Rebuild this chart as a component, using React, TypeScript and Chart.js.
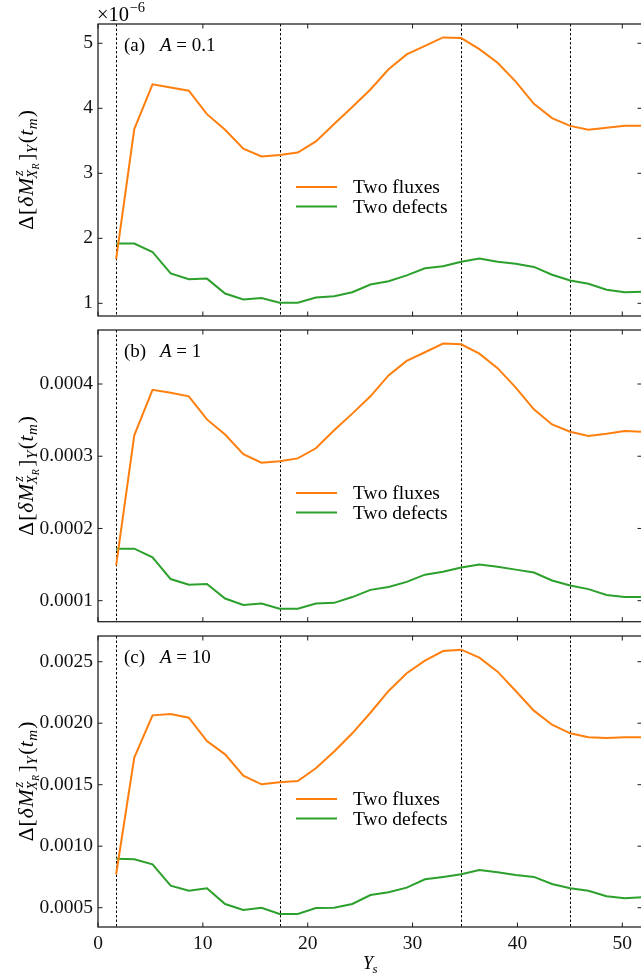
import React, { useEffect, useRef } from "react";
import { Chart, registerables } from "chart.js";

Chart.register(...registerables);

// ---------------- data ----------------
const Y_S = [1.73, 3.46, 5.2, 6.93, 8.66, 10.39, 12.12, 13.86, 15.59, 17.32, 19.05, 20.78, 22.52, 24.25, 25.98, 27.71, 29.44, 31.18, 32.91, 34.64, 36.37, 38.11, 39.84, 41.57, 43.3, 45.03, 46.77, 48.5, 50.23, 51.96];

// (a) A = 0.1  (values in units of 1e-6)
const FLUXES_A01 = [1.68, 3.68, 4.37, 4.32, 4.27, 3.91, 3.67, 3.38, 3.26, 3.28, 3.32, 3.49, 3.76, 4.02, 4.29, 4.6, 4.83, 4.96, 5.09, 5.08, 4.91, 4.7, 4.41, 4.07, 3.85, 3.73, 3.67, 3.7, 3.73, 3.73];
const DEFECTS_A01 = [1.92, 1.92, 1.79, 1.46, 1.37, 1.38, 1.15, 1.06, 1.08, 1.01, 1.01, 1.09, 1.11, 1.17, 1.29, 1.34, 1.43, 1.54, 1.57, 1.64, 1.69, 1.64, 1.61, 1.56, 1.44, 1.35, 1.3, 1.21, 1.17, 1.18];

// (b) A = 1
const FLUXES_A1 = [0.000149, 0.000329, 0.000392, 0.000388, 0.000383, 0.000351, 0.00033, 0.000303, 0.000291, 0.000293, 0.000297, 0.000311, 0.000336, 0.000359, 0.000383, 0.000412, 0.000432, 0.000444, 0.000456, 0.000455, 0.000442, 0.000422, 0.000395, 0.000365, 0.000344, 0.000334, 0.000328, 0.000331, 0.000335, 0.000334];
const DEFECTS_A1 = [0.000172, 0.000172, 0.00016, 0.00013, 0.000122, 0.000123, 0.000103, 0.000094, 0.000096, 0.000089, 0.000089, 0.000096, 0.000097, 0.000105, 0.000115, 0.000119, 0.000126, 0.000136, 0.00014, 0.000146, 0.00015, 0.000147, 0.000143, 0.000139, 0.000128, 0.000121, 0.000116, 0.000108, 0.000105, 0.000105];

// (c) A = 10
const FLUXES_A10 = [0.000772, 0.00172, 0.002064, 0.002075, 0.002045, 0.001855, 0.001747, 0.001573, 0.001503, 0.001519, 0.00153, 0.001633, 0.00177, 0.001918, 0.002085, 0.002262, 0.002406, 0.002508, 0.002587, 0.002598, 0.002533, 0.002419, 0.002262, 0.002102, 0.001988, 0.001918, 0.001885, 0.00188, 0.001885, 0.001885];
const DEFECTS_A10 = [0.000898, 0.000893, 0.000853, 0.000679, 0.000638, 0.000658, 0.00053, 0.000481, 0.0005, 0.000449, 0.000449, 0.000497, 0.0005, 0.00053, 0.000603, 0.000625, 0.000663, 0.000731, 0.00075, 0.000772, 0.000807, 0.000788, 0.000766, 0.00075, 0.000693, 0.000658, 0.000638, 0.000593, 0.000576, 0.000585];

const X_TICKS = [0, 10, 20, 30, 40, 50];
const Y_TICKS_A01 = [1, 2, 3, 4, 5];
const Y_TICKS_A1 = [0.0001, 0.0002, 0.0003, 0.0004];
const Y_TICKS_A10 = [0.0005, 0.001, 0.0015, 0.002, 0.0025];
const V_LINES = [1.732, 17.32, 34.64, 45.03];
const SERIES_NAMES = ["Two fluxes", "Two defects"];
const PANEL_TAGS = ["(a)", "(b)", "(c)"];
const A_VALUES = ["0.1", "1", "10"];

// ---------------- style / layout ----------------
const SERIF = "'Liberation Serif', 'Times New Roman', serif";
const COLORS = ["#ff7f0e", "#2ca02c"];
const CANVAS_W = 650;
const X_MAX = 51.88;

type PanelCfg = {
  idx: number;
  flux: number[];
  def: number[];
  yTicks: number[];
  yMin: number;
  yMax: number;
  fmt: (v: number) => string;
  top: number;
  h: number;
  padTop: number;
  xH: number;
  showX: boolean;
  showMult: boolean;
};

const PANELS: PanelCfg[] = [
  { idx: 0, flux: FLUXES_A01, def: DEFECTS_A01, yTicks: Y_TICKS_A01, yMin: 0.805, yMax: 5.297, fmt: (v) => String(Math.round(v)), top: 0, h: 320, padTop: 24, xH: 4, showX: false, showMult: true },
  { idx: 1, flux: FLUXES_A1, def: DEFECTS_A1, yTicks: Y_TICKS_A1, yMin: 0.0000709, yMax: 0.0004748, fmt: (v) => v.toFixed(4), top: 320, h: 310, padTop: 10, xH: 8.3, showX: false, showMult: false },
  { idx: 2, flux: FLUXES_A10, def: DEFECTS_A10, yTicks: Y_TICKS_A10, yMin: 0.000343, yMax: 0.002709, fmt: (v) => v.toFixed(4), top: 630, h: 348, padTop: 6, xH: 51, showX: true, showMult: false },
];

function put(ctx: CanvasRenderingContext2D, draw: boolean, t: string, it: boolean, s: number, x: number, dy: number) {
  ctx.font = `${it ? "italic " : ""}${s}px ${SERIF}`;
  if (draw) ctx.fillText(t, x, dy);
  return ctx.measureText(t).width;
}

function yLabelRun(ctx: CanvasRenderingContext2D, draw: boolean, x0: number) {
  const M = 21.5;
  const S = 15;
  const G = 1;
  let x = x0;
  x += put(ctx, draw, "\u0394", false, M, x, 0) + G;
  x += put(ctx, draw, "[", false, M, x, 0) + G;
  x += put(ctx, draw, "\u03b4", true, M, x, 0) + G;
  x += put(ctx, draw, "M", true, M, x, 0);
  const xm = x;
  const wz = put(ctx, draw, "z", true, S - 1, xm + 2, -10);
  const wX = put(ctx, draw, "X", true, S - 1, xm - 0.5, 4);
  const wR = put(ctx, draw, "R", true, 10, xm + wX, 6.5);
  x = xm + Math.max(wz + 2, wX + wR) + 2.5;
  x += put(ctx, draw, "]", false, M, x, 0) + 0.5;
  x += put(ctx, draw, "Y", true, S, x, 4) + 1.5;
  x += put(ctx, draw, "(", false, M, x, 0) + 0.5;
  x += put(ctx, draw, "t", true, M, x, 0) + 0.5;
  x += put(ctx, draw, "m", true, S, x, 4) + 1;
  x += put(ctx, draw, ")", false, M, x, 0);
  return x - x0;
}

function makePlugin(p: PanelCfg) {
  return {
    id: "panelDecor" + p.idx,
    beforeDatasetsDraw(chart: any) {
      const { ctx, chartArea, scales } = chart;
      const { top, bottom } = chartArea;
      ctx.save();
      ctx.strokeStyle = "#000";
      ctx.lineWidth = 1;
      ctx.setLineDash([2.5, 2]);
      V_LINES.forEach((v) => {
        const px = Math.round(scales.x.getPixelForValue(v)) + 0.5;
        ctx.beginPath();
        ctx.moveTo(px, top);
        ctx.lineTo(px, bottom);
        ctx.stroke();
      });
      ctx.restore();
    },
    afterDraw(chart: any) {
      const { ctx, chartArea, scales } = chart;
      const { left, right, top, bottom } = chartArea;
      ctx.save();
      // spines
      ctx.strokeStyle = "#1a1a1a";
      ctx.lineWidth = 1.25;
      ctx.setLineDash([]);
      ctx.strokeRect(left, top, right - left, bottom - top);
      // inward ticks
      const TL = 4.5;
      ctx.lineWidth = 1;
      ctx.beginPath();
      X_TICKS.forEach((v) => {
        const px = scales.x.getPixelForValue(v);
        ctx.moveTo(px, bottom);
        ctx.lineTo(px, bottom - TL);
        ctx.moveTo(px, top);
        ctx.lineTo(px, top + TL);
      });
      p.yTicks.forEach((v) => {
        const py = scales.y.getPixelForValue(v);
        ctx.moveTo(left, py);
        ctx.lineTo(left + TL, py);
        ctx.moveTo(right, py);
        ctx.lineTo(right - TL, py);
      });
      ctx.stroke();

      ctx.fillStyle = "#000";
      ctx.textBaseline = "alphabetic";
      ctx.textAlign = "left";

      // panel tag
      const by = top + 27;
      put(ctx, true, PANEL_TAGS[p.idx], false, 19, 124, by);
      const wA = put(ctx, true, "A", true, 19, 160, by);
      put(ctx, true, " = " + A_VALUES[p.idx], false, 19, 160 + wA, by);

      // legend
      const ly = [top + 163, top + 182.5];
      SERIES_NAMES.forEach((name, i) => {
        ctx.strokeStyle = COLORS[i];
        ctx.lineWidth = 2;
        ctx.beginPath();
        ctx.moveTo(296, ly[i]);
        ctx.lineTo(337, ly[i]);
        ctx.stroke();
        put(ctx, true, name, false, 19.5, 353, ly[i] + 6);
      });

      // y-axis title
      ctx.save();
      ctx.translate(32.5, (top + bottom) / 2);
      ctx.rotate(-Math.PI / 2);
      const W = yLabelRun(ctx, false, 0);
      yLabelRun(ctx, true, -W / 2);
      ctx.restore();

      // multiplier
      if (p.showMult) {
        const w = put(ctx, true, "\u00d710", false, 20.5, 97, 20.5);
        put(ctx, true, "\u22126", false, 14.5, 97 + w + 0.5, 12);
      }

      // x-axis title
      if (p.showX) {
        const cx = (left + right) / 2;
        const wY = put(ctx, true, "Y", true, 18, cx - 7, 339);
        put(ctx, true, "s", true, 13, cx - 7 + wY - 0.5, 343);
      }
      ctx.restore();
    },
  };
}

function PanelChart({ p }: { p: PanelCfg }) {
  const ref = useRef<HTMLCanvasElement>(null);
  useEffect(() => {
    const tickFont = { family: SERIF, size: 19.5 };
    const chart = new Chart(ref.current as HTMLCanvasElement, {
      type: "line",
      data: {
        datasets: [
          {
            label: SERIES_NAMES[0],
            data: Y_S.map((x, i) => ({ x, y: p.flux[i] })),
            borderColor: COLORS[0],
            backgroundColor: COLORS[0],
            borderWidth: 2,
            pointRadius: 0,
            tension: 0,
            fill: false,
          },
          {
            label: SERIES_NAMES[1],
            data: Y_S.map((x, i) => ({ x, y: p.def[i] })),
            borderColor: COLORS[1],
            backgroundColor: COLORS[1],
            borderWidth: 2,
            pointRadius: 0,
            tension: 0,
            fill: false,
          },
        ],
      },
      options: {
        animation: false,
        responsive: false,
        events: [],
        layout: { padding: { top: p.padTop, right: CANVAS_W - 642, left: 0, bottom: 0 } },
        plugins: { legend: { display: false }, tooltip: { enabled: false }, title: { display: false } },
        scales: {
          x: {
            type: "linear",
            min: 0,
            max: X_MAX,
            grid: { display: false, drawTicks: false },
            border: { display: false },
            ticks: { display: p.showX, font: tickFont, color: "#111", padding: 5, maxRotation: 0, autoSkip: false },
            afterBuildTicks: (s: any) => {
              s.ticks = X_TICKS.map((v) => ({ value: v }));
            },
            afterFit: (s: any) => {
              s.height = p.xH;
              s.paddingLeft = 0;
              s.paddingRight = 0;
            },
          },
          y: {
            type: "linear",
            min: p.yMin,
            max: p.yMax,
            grid: { display: false, drawTicks: false },
            border: { display: false },
            ticks: { font: tickFont, color: "#111", padding: 5, callback: (v: any) => p.fmt(Number(v)) },
            afterBuildTicks: (s: any) => {
              s.ticks = p.yTicks.map((v) => ({ value: v }));
            },
            afterFit: (s: any) => {
              s.width = 98;
              s.paddingTop = 0;
              s.paddingBottom = 0;
            },
          },
        },
      } as any,
      plugins: [makePlugin(p)],
    });
    return () => chart.destroy();
  }, [p]);
  return (
    <canvas
      ref={ref}
      width={CANVAS_W}
      height={p.h}
      style={{ position: "absolute", left: 0, top: p.top, display: "block" }}
    />
  );
}

export default function App() {
  return (
    <div
      style={{
        position: "absolute",
        left: 0,
        top: 0,
        width: 641,
        height: 978,
        overflow: "hidden",
        background: "#fff",
      }}
    >
      {PANELS.map((p) => (
        <PanelChart key={p.idx} p={p} />
      ))}
    </div>
  );
}
